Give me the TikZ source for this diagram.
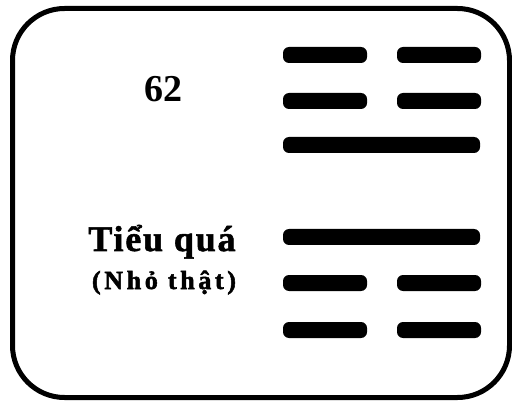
\documentclass[tikz,border=0pt]{standalone}
\usepackage{fontspec}
\setmainfont{Liberation Serif}
\usetikzlibrary{positioning}

\begin{document}
\begin{tikzpicture}[x=1pt, y=-1pt,
  frame/.style={draw, line width=5pt, rounded corners=52pt},
  yang/.style={fill=black, rounded corners=6pt, inner sep=0pt,
               minimum width=197pt, minimum height=16pt},
  yin/.style={yang, minimum width=84pt},
  num/.style={font=\fontsize{38}{40}\selectfont\bfseries, anchor=base, inner sep=0pt},
  nm/.style={font=\fontsize{36}{38}\selectfont\bfseries\addfontfeature{LetterSpace=5,FakeBold=1.5},
             anchor=base, inner sep=0pt},
  sub/.style={font=\fontsize{26}{28}\selectfont\bfseries\addfontfeature{LetterSpace=14,FakeBold=2},
              anchor=base, inner sep=0pt}]
  \useasboundingbox (0,0) rectangle (512,401);
  % ---- card outline
  \draw[frame] (12.5,8.5) rectangle (509.5,397.5);
  % ---- number and name of the hexagram
  \node[num] (no)   at (163,102) {62};
  \node[nm]  (name) at (162,251) {Tiểu quá};
  \node[sub] (gloss) at (164,289) {(Nhỏ thật)};
  % ---- the six lines, top to bottom: yin yin yang | yang yin yin
  \node[yin]  (l6a) at (325,55)  {};  \node[yin] (l6b) at (439,55)  {};
  \node[yin]  (l5a) at (325,101) {};  \node[yin] (l5b) at (439,101) {};
  \node[yang] (l4)  at (381.5,145) {};
  \node[yang] (l3)  at (381.5,237) {};
  \node[yin]  (l2a) at (325,283) {};  \node[yin] (l2b) at (439,283) {};
  \node[yin]  (l1a) at (325,330) {};  \node[yin] (l1b) at (439,330) {};
\end{tikzpicture}
\end{document}
